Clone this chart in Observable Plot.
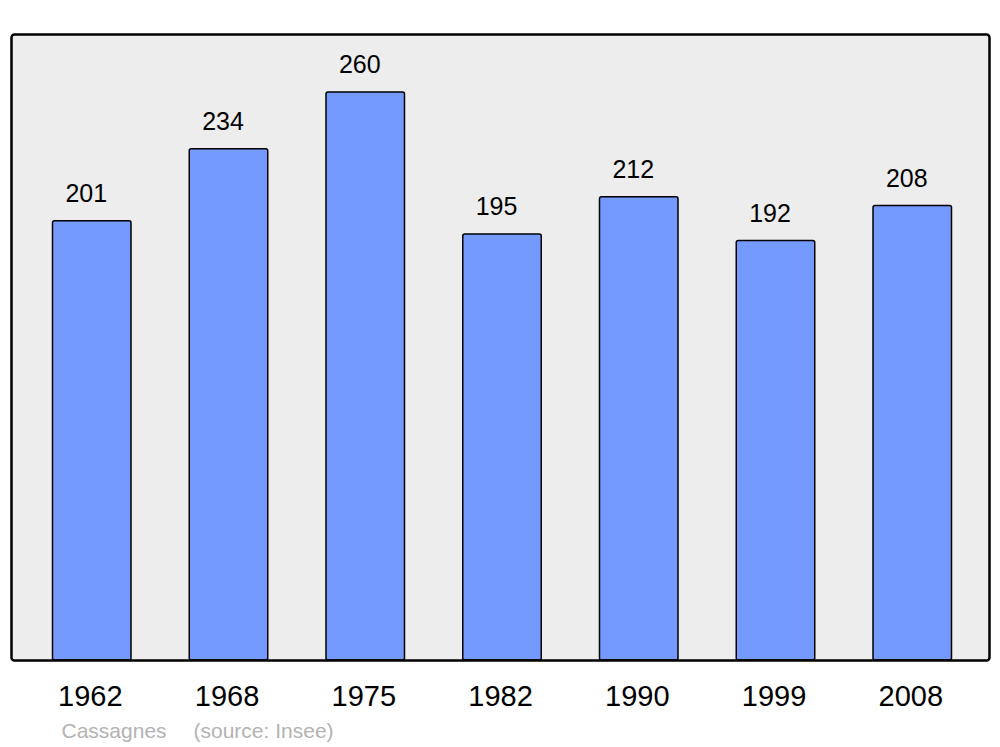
<!DOCTYPE html>
<html>
<head>
<meta charset="utf-8">
<script src="https://cdn.jsdelivr.net/npm/d3@7"></script>
<script src="https://cdn.jsdelivr.net/npm/@observablehq/plot@0.6"></script>
<style>
  html, body { margin: 0; padding: 0; background: #fff; }
</style>
</head>
<body>
<div id="chart"></div>
<script>
const years = ["1962", "1968", "1975", "1982", "1990", "1999", "2008"];
const population = [201, 234, 260, 195, 212, 192, 208];
const placeName = "Cassagnes";
const sourceText = "(source: Insee)";

const data = years.map((year, i) => ({year, value: population[i]}));

const chart = Plot.plot({
  width: 1000,
  height: 747,
  marginLeft: 11,
  marginRight: 11,
  marginTop: 34,
  marginBottom: 87,
  style: {fontFamily: "'Liberation Sans', Arial, sans-serif", background: "#fff", color: "#000"},
  x: {domain: years, range: [52.5, 951.5], paddingInner: 0.426, paddingOuter: 0, round: false, axis: null},
  y: {domain: [0, 286.5], axis: null},
  marks: [
    Plot.frame({fill: "#ededed", stroke: "none", rx: 3}),
    Plot.barY(data, {x: "year", y: "value", fill: "#7499ff", stroke: "#000", strokeWidth: 1.5, rx: 2, insetLeft: 0, insetRight: 0}),
    Plot.frame({stroke: "#000", strokeWidth: 2.5, rx: 3}),
    Plot.text(data, {x: "year", y: "value", text: d => String(d.value), dy: -19, dx: -6, lineAnchor: "bottom", fontSize: 25, fill: "#000"}),
    Plot.text(data, {x: "year", y: () => 0, text: "year", dy: 45, dx: -2, lineAnchor: "bottom", fontSize: 29, fill: "#000"}),
    Plot.text([placeName], {frameAnchor: "bottom-left", text: d => d, dx: 50, dy: 77, textAnchor: "start", lineAnchor: "bottom", fontSize: 21, fill: "#b3b3b3"}),
    Plot.text([sourceText], {frameAnchor: "bottom-left", text: d => d, dx: 182, dy: 77, textAnchor: "start", lineAnchor: "bottom", fontSize: 21, fill: "#b3b3b3"})
  ]
});
document.getElementById("chart").append(chart);
</script>
</body>
</html>
